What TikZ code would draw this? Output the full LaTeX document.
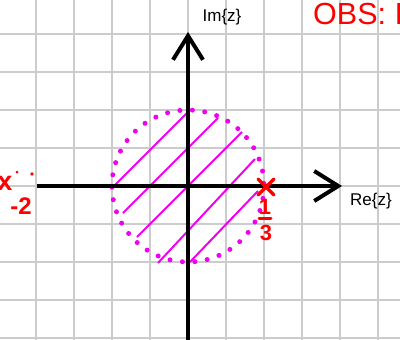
\documentclass[tikz,border=0pt]{standalone}
\usepackage{fontspec}
\setmainfont{Liberation Sans}
\usetikzlibrary{arrows.meta,calc}
\definecolor{gridc}{RGB}{204,204,204}
\definecolor{mag}{RGB}{240,0,240}
\definecolor{redc}{RGB}{255,0,0}
\tikzset{
  gridline/.style={gridc, line width=1.5pt},
  axis/.style={black, line width=4pt, -{Straight Barb[length=24pt,width=30pt,line width=4pt]}},
  hatch/.style={mag, line width=2pt},
  dotcircle/.style={mag, line width=5pt, line cap=round, dash pattern=on 0pt off 12.5pt},
  redmark/.style={redc, line width=3.5pt, line cap=round},
  hand/.style={black, inner sep=0pt, font=\fontsize{17}{17}\selectfont},
  redtext/.style={redc, inner sep=0pt, font=\bfseries\fontsize{22}{22}\selectfont}
}
\begin{document}
\begin{tikzpicture}[x=1pt,y=-1pt]
\useasboundingbox (0,0) rectangle (400,340);
\begin{scope}
\clip (0,0) rectangle (400,340);
\fill[white] (0,0) rectangle (400,340);
% grid
\foreach \x in {36,74,...,378} \draw[gridline] (\x,0) -- (\x,340);
\foreach \y in {34,72,...,338} \draw[gridline] (0,\y) -- (400,\y);
% OBS text
\node[anchor=base west, redc, inner sep=0pt, font=\fontsize{30.5}{30}\selectfont] (obs) at (313,24) {OBS: I};
% hatching
\coordinate (h1a) at (113,187); \coordinate (h1b) at (190,110);
\coordinate (h2a) at (123,213); \coordinate (h2b) at (218,118);
\coordinate (h3a) at (137,237); \coordinate (h3b) at (242,132);
\coordinate (h4a) at (158,263); \coordinate (h4b) at (255,159);
\coordinate (h5a) at (190,262); \coordinate (h5b) at (258,191);
\draw[hatch] (h1a) -- (h1b);
\draw[hatch] (h2a) -- (h2b);
\draw[hatch] (h3a) -- (h3b);
\draw[hatch] (h4a) -- (h4b);
\draw[hatch] (h5a) -- (h5b);
% dotted circle
\coordinate (c) at (188,186);
\draw[dotcircle] (c) circle[radius=76];
% axes
\coordinate (xl) at (37,186); \coordinate (xr) at (342,186);
\coordinate (yb) at (188,340); \coordinate (yt) at (188,32);
\draw[axis] (xl) -- (xr);
\draw[axis] (yb) -- (yt);
% axis labels
\node[hand] (im) at (222,17) {Im\{z\}};
\node[hand] (re) at (371,201) {Re\{z\}};
% red cross at 1/3
\coordinate (p) at (266,187);
\draw[redmark] ($(p)+(-8,-8)$) -- ($(p)+(8,8)$);
\draw[redmark] ($(p)+(-8,8)$) -- ($(p)+(8,-8)$);
\node[redtext] (one) at (265,207) {1};
\coordinate (fb1) at (259,218); \coordinate (fb2) at (271,218);
\draw[redmark, line width=3pt] (fb1) -- (fb2);
\node[redtext] (three) at (266,233) {3};
% left label
\node[redtext, font=\bfseries\fontsize{27}{27}\selectfont] (xl2) at (5,183) {x};
\node[redtext, font=\bfseries\fontsize{24}{24}\selectfont] (m2) at (21,206) {-2};
\fill[redc] (17,172) circle[radius=1.5];
\fill[redc] (32,174) circle[radius=1.8];
\end{scope}
\end{tikzpicture}
\end{document}
